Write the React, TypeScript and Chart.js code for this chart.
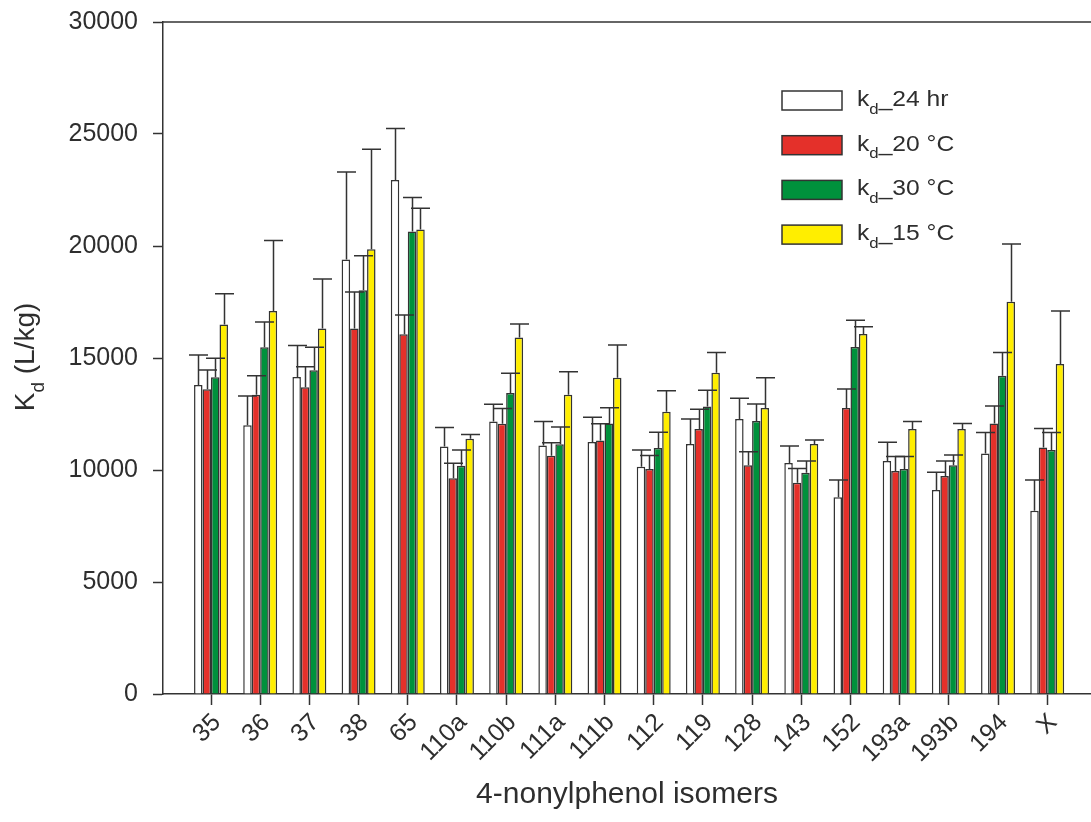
import React, { useEffect, useRef } from 'react';
import { Chart, registerables } from 'chart.js';

Chart.register(...registerables);

// 4-nonylphenol isomers on the x axis
const isomers = ['35', '36', '37', '38', '65', '110a', '110b', '111a', '111b', '112', '119', '128', '143', '152', '193a', '193b', '194', 'X'];

// Kd means (L/kg)
const kd24hr = [13800, 12000, 14150, 19400, 22950, 11050, 12170, 11090, 11250, 10150, 11160, 12280, 10310, 8780, 10400, 9110, 10740, 8180];
const kd20C = [13600, 13360, 13690, 16320, 16060, 9630, 12070, 10640, 11320, 10040, 11830, 10210, 9430, 12770, 9960, 9730, 12080, 11000];
const kd30C = [14140, 15480, 14450, 18020, 20650, 10190, 13440, 11150, 12080, 10980, 12840, 12190, 9880, 15490, 10040, 10210, 14210, 10890];
const kd15C = [16500, 17100, 16320, 19850, 20740, 11400, 15910, 13360, 14120, 12600, 14340, 12770, 11160, 16070, 11830, 11830, 17510, 14730];

// upper standard deviations
const kd24hrErr = [1330, 1300, 1410, 3900, 2290, 850, 760, 1080, 1100, 740, 1120, 920, 760, 770, 840, 790, 930, 1370];
const kd20CErr = [860, 850, 920, 1630, 860, 670, 680, 580, 750, 610, 880, 610, 640, 850, 640, 670, 780, 850];
const kd30CErr = [850, 1130, 1030, 1550, 1520, 700, 880, 770, 700, 700, 720, 760, 520, 1190, 560, 460, 1030, 780];
const kd15CErr = [1370, 3140, 2210, 4470, 940, 190, 610, 1030, 1460, 940, 900, 1350, 180, 330, 340, 250, 2580, 2370];

const yTicks = [0, 5000, 10000, 15000, 20000, 25000, 30000];

const seriesSuffix = ['_24 hr', '_20 \u00B0C', '_30 \u00B0C', '_15 \u00B0C'];
const seriesColors = ['#FFFFFF', '#E4302A', '#00913C', '#FFEE00'];
const seriesValues = [kd24hr, kd20C, kd30C, kd15C];
const seriesErrors = [kd24hrErr, kd20CErr, kd30CErr, kd15CErr];

const INK = '#2e2e2e';
const LINE = '#333333';
const FONT = '"Liberation Sans", Arial, sans-serif';

// "k" with subscript "d", followed by the rest of the label
function drawSubscripted(ctx: CanvasRenderingContext2D, x: number, y: number, base: string, sub: string, rest: string, size: number) {
  ctx.textAlign = 'left';
  ctx.textBaseline = 'alphabetic';
  ctx.font = `${size}px ${FONT}`;
  ctx.fillText(base, x, y);
  let cx = x + ctx.measureText(base).width;
  ctx.font = `${Math.round(size * 0.68)}px ${FONT}`;
  ctx.fillText(sub, cx, y + size * 0.35);
  cx += ctx.measureText(sub).width;
  ctx.font = `${size}px ${FONT}`;
  ctx.fillText(rest, cx, y);
}

const upperErrorBars = {
  id: 'upperErrorBars',
  afterDatasetsDraw(chart: any) {
    const { ctx } = chart;
    const yScale = chart.scales.y;
    ctx.save();
    ctx.strokeStyle = LINE;
    ctx.lineWidth = 1.5;
    chart.data.datasets.forEach((ds: any, di: number) => {
      const meta = chart.getDatasetMeta(di);
      const errs = seriesErrors[di];
      meta.data.forEach((bar: any, i: number) => {
        const v = ds.data[i].y;
        const top = yScale.getPixelForValue(v + errs[i]);
        const x = Math.round(bar.x) + 0.5;
        ctx.beginPath();
        ctx.moveTo(x, bar.y);
        ctx.lineTo(x, top);
        ctx.moveTo(x - 9.5, top);
        ctx.lineTo(x + 9.5, top);
        ctx.stroke();
      });
    });
    ctx.restore();
  },
};

const annotations = {
  id: 'annotations',
  afterDraw(chart: any) {
    const { ctx, chartArea } = chart;
    ctx.save();

    // top frame line
    ctx.strokeStyle = LINE;
    ctx.lineWidth = 1.5;
    ctx.beginPath();
    ctx.moveTo(chartArea.left, chartArea.top);
    ctx.lineTo(chartArea.right, chartArea.top);
    ctx.stroke();

    // legend
    chart.data.datasets.forEach((ds: any, i: number) => {
      const bx = 782;
      const by = 91 + i * 44.7;
      ctx.fillStyle = ds.backgroundColor;
      ctx.fillRect(bx, by, 60, 19);
      ctx.strokeStyle = LINE;
      ctx.lineWidth = 1.5;
      ctx.strokeRect(bx, by, 60, 19);
      ctx.fillStyle = INK;
      ctx.save();
      ctx.translate(857, by + 15);
      ctx.scale(1.12, 1);
      drawSubscripted(ctx, 0, 0, 'k', 'd', seriesSuffix[i], 22);
      ctx.restore();
    });

    // y axis title
    ctx.save();
    ctx.fillStyle = INK;
    ctx.translate(34, 357);
    ctx.rotate(-Math.PI / 2);
    ctx.font = `28px ${FONT}`;
    const w1 = ctx.measureText('K').width;
    ctx.font = `19px ${FONT}`;
    const w2 = ctx.measureText('d').width;
    ctx.font = `28px ${FONT}`;
    const w3 = ctx.measureText(' (L/kg)').width;
    drawSubscripted(ctx, -(w1 + w2 + w3) / 2, 0, 'K', 'd', ' (L/kg)', 28);
    ctx.restore();

    // x axis title
    ctx.fillStyle = INK;
    ctx.font = `30px ${FONT}`;
    ctx.textAlign = 'center';
    ctx.textBaseline = 'alphabetic';
    ctx.fillText('4-nonylphenol isomers', (chartArea.left + chartArea.right) / 2, 803);
    ctx.restore();
  },
};

export default function App() {
  const canvasRef = useRef<HTMLCanvasElement | null>(null);

  useEffect(() => {
    if (!canvasRef.current) return;
    const chart = new Chart(canvasRef.current, {
      type: 'bar',
      data: {
        datasets: seriesValues.map((vals, si) => ({
          label: 'k_d' + seriesSuffix[si],
          data: vals.map((v, i) => ({ x: i, y: v })),
          backgroundColor: seriesColors[si],
          borderColor: LINE,
          borderWidth: 1.5,
          categoryPercentage: 0.69,
          barPercentage: 1,
        })),
      },
      options: {
        responsive: false,
        animation: false,
        events: [],
        layout: { padding: { top: 22, right: 0, bottom: 0, left: 0 } },
        plugins: {
          legend: { display: false },
          tooltip: { enabled: false },
          title: { display: false },
        },
        scales: {
          x: {
            type: 'linear',
            min: -0.976,
            max: 17.89,
            offset: false,
            afterBuildTicks: (scale: any) => {
              scale.ticks = isomers.map((_, i) => ({ value: i }));
            },
            afterFit: (scale: any) => {
              scale.height = 128;
              scale.paddingRight = 0;
            },
            grid: {
              display: true,
              drawOnChartArea: false,
              offset: false,
              tickLength: 11,
              tickColor: LINE,
              tickWidth: 1.5,
            },
            border: { display: true, color: LINE, width: 1.5 },
            ticks: {
              autoSkip: false,
              minRotation: 45,
              maxRotation: 45,
              padding: 3,
              labelOffset: 6,
              color: INK,
              font: { family: FONT, size: 25 },
              callback: (v: any) => isomers[v as number] ?? '',
            },
          },
          y: {
            type: 'linear',
            min: 0,
            max: 30000,
            afterBuildTicks: (scale: any) => {
              scale.ticks = yTicks.map((v) => ({ value: v }));
            },
            afterFit: (scale: any) => {
              scale.width = 163;
              scale.paddingTop = 0;
              scale.paddingBottom = 0;
            },
            grid: {
              display: true,
              drawOnChartArea: false,
              tickLength: 10,
              tickColor: LINE,
              tickWidth: 1.5,
            },
            border: { display: true, color: LINE, width: 1.5 },
            ticks: {
              padding: 15,
              color: INK,
              font: { family: FONT, size: 25 },
              callback: (v: any) => String(v),
            },
          },
        },
      },
      plugins: [upperErrorBars, annotations],
    });
    return () => chart.destroy();
  }, []);

  return (
    <div style={{ position: 'absolute', left: 0, top: 0, width: 1091, height: 822, background: '#fff' }}>
      <canvas ref={canvasRef} width={1091} height={822} style={{ display: 'block' }} />
    </div>
  );
}
